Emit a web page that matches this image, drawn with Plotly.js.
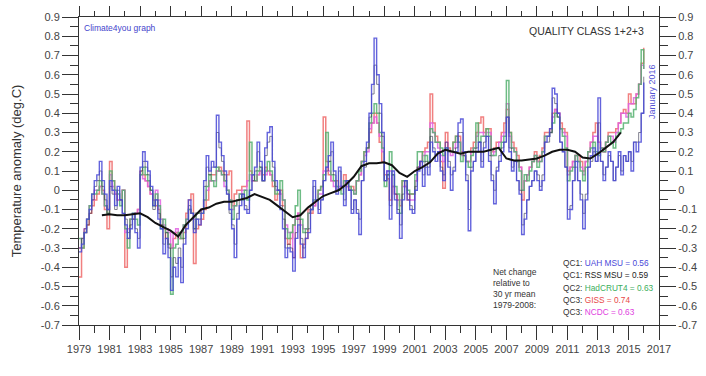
<!DOCTYPE html>
<html>
<head>
<meta charset="utf-8">
<script src="https://cdn.plot.ly/plotly-3.0.1.min.js"></script>
<style>
html,body{margin:0;padding:0;background:#fff;}
#chart{width:706px;height:376px;}
</style>
</head>
<body>
<div id="chart"></div>
<script>
// Bimonthly anomalies (deg.C, relative to 1979-2008), first value at 1979.0, step 1/6 yr, last at 2016.0
const startYear = 1979;
const stepYears = 1/6;

const uah = [
 -0.32,-0.28,-0.22,-0.15,-0.10,-0.02, // 1979
  0.05, 0.08, 0.15, 0.05,-0.02,-0.10, // 1980
  0.05, 0.00,-0.08, 0.02,-0.05,-0.12, // 1981
 -0.18,-0.25,-0.20,-0.12,-0.22,-0.30, // 1982
  0.12, 0.20, 0.15, 0.10, 0.02,-0.08, // 1983
 -0.05,-0.15,-0.20,-0.33,-0.25,-0.35, // 1984
 -0.52,-0.40,-0.45,-0.35,-0.48,-0.28, // 1985
 -0.20,-0.05,-0.12,-0.22,-0.15,-0.18, // 1986
 -0.12, 0.05, 0.18, 0.10, 0.15, 0.12, // 1987
  0.39, 0.25, 0.18, 0.10,-0.02,-0.10, // 1988
 -0.20,-0.35,-0.15,-0.08,-0.02,-0.10, // 1989
 -0.12, 0.00, 0.08, 0.12, 0.25, 0.15, // 1990
  0.05, 0.22, 0.30, 0.33, 0.15, 0.05, // 1991
  0.00,-0.10,-0.20,-0.35,-0.30,-0.32, // 1992
 -0.42,-0.25,-0.18,-0.28,-0.35,-0.25, // 1993
 -0.22,-0.10, 0.05,-0.05,-0.12,-0.05, // 1994
  0.05, 0.12, 0.18, 0.25, 0.10,-0.02, // 1995
  0.12, 0.02,-0.08, 0.05, 0.00,-0.12, // 1996
 -0.05,-0.12,-0.23, 0.05, 0.15, 0.25, // 1997
  0.40, 0.55, 0.79, 0.60, 0.45, 0.30, // 1998
  0.05, 0.10,-0.15, 0.10,-0.05,-0.12, // 1999
 -0.25,-0.05, 0.05,-0.05,-0.10,-0.12, // 2000
  0.00, 0.10, 0.15, 0.02, 0.12, 0.08, // 2001
  0.25, 0.20, 0.15, 0.20, 0.10, 0.05, // 2002
  0.22, 0.12, 0.00, 0.10, 0.20, 0.35, // 2003
  0.37, 0.20, 0.05,-0.21, 0.10, 0.15, // 2004
  0.20, 0.25, 0.12, 0.22, 0.28, 0.15, // 2005
  0.05,-0.07, 0.10, 0.15, 0.20, 0.25, // 2006
  0.38, 0.20, 0.10, 0.15, 0.05,-0.02, // 2007
 -0.23,-0.15,-0.05, 0.02, 0.05, 0.10, // 2008
  0.05, 0.00, 0.05, 0.25, 0.28, 0.32, // 2009
  0.53, 0.50, 0.40, 0.25, 0.20, 0.12, // 2010
 -0.15,-0.10, 0.05, 0.15, 0.05,-0.05, // 2011
 -0.20,-0.05, 0.12, 0.18, 0.22, 0.15, // 2012
  0.48, 0.15, 0.05, 0.12, 0.20, 0.15, // 2013
  0.05, 0.12, 0.20, 0.08, 0.18, 0.15, // 2014
  0.20, 0.10, 0.25, 0.20, 0.25, 0.40, // 2015
  0.56                                // 2016
];

const rss = [
 -0.30,-0.25,-0.20,-0.18,-0.12,-0.05,
  0.02, 0.05, 0.10, 0.02,-0.05,-0.12,
  0.02,-0.02,-0.10, 0.00,-0.05,-0.12,
 -0.15,-0.22,-0.18,-0.15,-0.20,-0.25,
  0.10, 0.15, 0.12, 0.08, 0.00,-0.10,
 -0.05,-0.12,-0.18,-0.28,-0.22,-0.30,
 -0.45,-0.35,-0.38,-0.30,-0.40,-0.25,
 -0.18,-0.08,-0.12,-0.20,-0.15,-0.15,
 -0.10, 0.02, 0.12, 0.08, 0.12, 0.12,
  0.30, 0.22, 0.15, 0.08,-0.02,-0.12,
 -0.18,-0.28,-0.12,-0.05,-0.02,-0.08,
 -0.10, 0.00, 0.05, 0.10, 0.20, 0.12,
  0.05, 0.18, 0.25, 0.28, 0.12, 0.02,
  0.00,-0.08,-0.15,-0.30,-0.28,-0.30,
 -0.35,-0.22,-0.15,-0.25,-0.30,-0.22,
 -0.20,-0.08, 0.02,-0.05,-0.10,-0.05,
  0.05, 0.10, 0.15, 0.20, 0.08, 0.00,
  0.10, 0.02,-0.05, 0.05, 0.00,-0.10,
 -0.05,-0.10,-0.15, 0.05, 0.12, 0.22,
  0.38, 0.50, 0.65, 0.55, 0.40, 0.28,
  0.05, 0.08,-0.08, 0.08,-0.02,-0.10,
 -0.18,-0.02, 0.05,-0.02,-0.08,-0.10,
  0.02, 0.12, 0.15, 0.08, 0.15, 0.12,
  0.28, 0.22, 0.18, 0.20, 0.12, 0.08,
  0.25, 0.15, 0.08, 0.12, 0.22, 0.30,
  0.30, 0.18, 0.08,-0.10, 0.12, 0.15,
  0.22, 0.25, 0.15, 0.25, 0.28, 0.18,
  0.08, 0.00, 0.12, 0.18, 0.22, 0.25,
  0.38, 0.22, 0.12, 0.15, 0.05, 0.00,
 -0.18,-0.12,-0.05, 0.02, 0.05, 0.10,
  0.08, 0.02, 0.08, 0.25, 0.25, 0.30,
  0.48, 0.45, 0.38, 0.25, 0.20, 0.12,
 -0.10,-0.08, 0.05, 0.12, 0.05,-0.02,
 -0.12,-0.02, 0.12, 0.15, 0.20, 0.15,
  0.35, 0.15, 0.08, 0.12, 0.18, 0.15,
  0.05, 0.12, 0.18, 0.10, 0.18, 0.15,
  0.20, 0.15, 0.25, 0.25, 0.30, 0.40,
  0.59
];

const hadcrut4 = [
 -0.25,-0.30,-0.22,-0.15,-0.08,-0.02,
 -0.02, 0.00, 0.05,-0.02,-0.08,-0.12,
  0.10, 0.05, 0.00,-0.02,-0.08, 0.00,
 -0.20,-0.30,-0.15,-0.12,-0.15,-0.18,
  0.08, 0.12, 0.08, 0.05, 0.00,-0.08,
 -0.02,-0.08,-0.20,-0.15,-0.22,-0.28,
 -0.54,-0.30,-0.28,-0.22,-0.25,-0.18,
 -0.15,-0.10,-0.12,-0.20,-0.12,-0.12,
 -0.12,-0.05, 0.02, 0.08, 0.05, 0.02,
  0.12, 0.10, 0.08, 0.05, 0.00,-0.05,
 -0.15,-0.08,-0.05,-0.02,-0.05, 0.00,
 -0.05, 0.25, 0.08, 0.05, 0.10, 0.12,
  0.05, 0.10, 0.15, 0.10, 0.05,-0.02,
  0.00, 0.05,-0.05,-0.20,-0.25,-0.22,
 -0.18,-0.08, 0.00,-0.15,-0.22,-0.20,
 -0.12,-0.10,-0.05,-0.05, 0.00, 0.02,
  0.08, 0.30, 0.15, 0.08, 0.05, 0.02,
  0.00,-0.02, 0.05, 0.05, 0.02, 0.00,
 -0.02, 0.05, 0.10, 0.15, 0.20, 0.22,
  0.35, 0.40, 0.45, 0.40, 0.30, 0.22,
  0.02, 0.08, 0.20, 0.08, 0.02,-0.02,
 -0.12, 0.05, 0.05, 0.00,-0.02,-0.02,
  0.08, 0.20, 0.20, 0.15, 0.18, 0.15,
  0.32, 0.30, 0.25, 0.25, 0.22, 0.18,
  0.22, 0.20, 0.20, 0.25, 0.28, 0.25,
  0.15, 0.18, 0.15, 0.12, 0.18, 0.22,
  0.35, 0.25, 0.28, 0.28, 0.32, 0.28,
  0.18, 0.18, 0.22, 0.22, 0.25, 0.28,
  0.57, 0.30, 0.22, 0.20, 0.15, 0.10,
  0.00, 0.08, 0.05, 0.10, 0.15, 0.18,
  0.12, 0.15, 0.20, 0.28, 0.28, 0.30,
  0.35, 0.40, 0.38, 0.32, 0.28, 0.22,
  0.05, 0.10, 0.12, 0.18, 0.15, 0.10,
  0.05, 0.12, 0.20, 0.22, 0.25, 0.20,
  0.18, 0.22, 0.20, 0.25, 0.28, 0.25,
  0.22, 0.28, 0.30, 0.32, 0.35, 0.35,
  0.40, 0.38, 0.42, 0.48, 0.55, 0.73,
  0.63
];

const giss = [
 -0.45,-0.30,-0.22,-0.18,-0.12,-0.08,
 -0.05,-0.02, 0.02, 0.00,-0.10,-0.20,
  0.15, 0.05,-0.02,-0.05,-0.05, 0.00,
 -0.40,-0.25,-0.15,-0.15,-0.12,-0.10,
  0.10, 0.08, 0.05, 0.02,-0.02,-0.05,
 -0.08,-0.10,-0.18,-0.20,-0.25,-0.28,
 -0.30,-0.25,-0.22,-0.25,-0.25,-0.22,
 -0.12,-0.05,-0.02,-0.38,-0.20,-0.18,
 -0.15,-0.10,-0.05, 0.05, 0.08, 0.08,
  0.10, 0.12, 0.10, 0.05, 0.08, 0.10,
 -0.08,-0.02, 0.00, 0.00, 0.02, 0.02,
  0.36, 0.10, 0.05, 0.05, 0.08, 0.10,
  0.08, 0.12, 0.10, 0.08, 0.02,-0.05,
 -0.02, 0.00,-0.08,-0.25,-0.28,-0.25,
 -0.18,-0.15,-0.12,-0.35,-0.28,-0.25,
 -0.10,-0.12,-0.08,-0.05, 0.00, 0.02,
  0.38, 0.15, 0.08, 0.05, 0.05, 0.05,
  0.00, 0.02, 0.08, 0.02, 0.00, 0.02,
  0.00, 0.05, 0.08, 0.15, 0.20, 0.22,
  0.30, 0.35, 0.40, 0.35, 0.25, 0.15,
  0.08, 0.06,-0.05, 0.02,-0.02,-0.05,
 -0.08, 0.05, 0.02,-0.05,-0.02,-0.02,
  0.05, 0.12, 0.15, 0.20, 0.22, 0.25,
  0.50, 0.35, 0.28, 0.25, 0.15, 0.01,
  0.30, 0.22, 0.20, 0.25, 0.28, 0.28,
  0.20, 0.18, 0.15, 0.15, 0.22, 0.25,
  0.30, 0.35, 0.38, 0.30, 0.32, 0.32,
  0.20, 0.22, 0.25, 0.25, 0.30, 0.35,
  0.42, 0.30, 0.25, 0.22, 0.18, 0.12,
 -0.05, 0.05, 0.08, 0.12, 0.15, 0.20,
  0.15, 0.18, 0.22, 0.30, 0.30, 0.32,
  0.40, 0.42, 0.40, 0.35, 0.32, 0.30,
  0.10, 0.12, 0.15, 0.18, 0.18, 0.15,
  0.10, 0.15, 0.20, 0.25, 0.30, 0.35,
  0.25, 0.22, 0.20, 0.25, 0.30, 0.30,
  0.30, 0.32, 0.35, 0.40, 0.42, 0.40,
  0.50, 0.45, 0.45, 0.50, 0.55, 0.66,
  0.74
];

const ncdc = [
 -0.30,-0.25,-0.20,-0.15,-0.08,-0.05,
  0.00, 0.00, 0.02,-0.02,-0.08,-0.10,
  0.08, 0.02,-0.02,-0.05,-0.05, 0.00,
 -0.22,-0.20,-0.15,-0.15,-0.12,-0.10,
  0.08, 0.06, 0.05, 0.02,-0.02,-0.05,
  0.00,-0.05,-0.15,-0.18,-0.20,-0.22,
 -0.30,-0.22,-0.20,-0.25,-0.22,-0.18,
 -0.15,-0.10,-0.12,-0.15,-0.12,-0.12,
 -0.10,-0.05, 0.00, 0.05, 0.05, 0.05,
  0.10, 0.10, 0.08, 0.02, 0.00,-0.05,
 -0.10,-0.08,-0.05,-0.02, 0.00, 0.00,
  0.05, 0.08, 0.05, 0.05, 0.08, 0.10,
  0.05, 0.08, 0.10, 0.08, 0.05, 0.00,
  0.00,-0.02,-0.05,-0.18,-0.22,-0.22,
 -0.35,-0.15,-0.12,-0.18,-0.20,-0.20,
 -0.12,-0.10,-0.08,-0.05,-0.02,-0.02,
  0.10, 0.12, 0.10, 0.05, 0.02, 0.00,
  0.02, 0.02, 0.05, 0.02, 0.00, 0.00,
 -0.02, 0.05, 0.08, 0.15, 0.18, 0.20,
  0.32, 0.35, 0.38, 0.35, 0.28, 0.20,
  0.05, 0.10, 0.10, 0.02,-0.02,-0.05,
 -0.05, 0.02, 0.02,-0.02,-0.05,-0.05,
  0.05, 0.12, 0.15, 0.18, 0.20, 0.20,
  0.35, 0.30, 0.25, 0.22, 0.18, 0.15,
  0.25, 0.20, 0.18, 0.22, 0.25, 0.25,
  0.18, 0.18, 0.15, 0.15, 0.20, 0.22,
  0.28, 0.30, 0.30, 0.28, 0.30, 0.30,
  0.18, 0.20, 0.22, 0.25, 0.28, 0.30,
  0.45, 0.28, 0.22, 0.20, 0.15, 0.12,
  0.00, 0.05, 0.08, 0.12, 0.15, 0.18,
  0.15, 0.15, 0.20, 0.28, 0.28, 0.30,
  0.38, 0.42, 0.40, 0.32, 0.30, 0.28,
  0.08, 0.12, 0.15, 0.18, 0.15, 0.12,
  0.08, 0.15, 0.20, 0.25, 0.28, 0.28,
  0.25, 0.22, 0.20, 0.25, 0.28, 0.28,
  0.25, 0.30, 0.35, 0.40, 0.40, 0.38,
  0.45, 0.45, 0.48, 0.50, 0.55, 0.65,
  0.63
];

// 37-month running mean, half-yearly from 1980.5 to 2014.5
const meanStart = 1980.5;
const meanStep = 0.5;
const runningMean = [
 -0.13,-0.125,-0.13,-0.13,-0.125,-0.12,-0.14,-0.17,-0.19,-0.21,
 -0.24,-0.18,-0.14,-0.10,-0.09,-0.07,-0.06,-0.06,-0.05,-0.04,
 -0.02,-0.035,-0.05,-0.08,-0.11,-0.14,-0.13,-0.09,-0.06,-0.03,
 -0.015,0.00,0.03,0.07,0.125,0.14,0.14,0.145,0.13,0.09,
  0.07,0.10,0.12,0.145,0.19,0.21,0.20,0.19,0.20,0.20,
  0.20,0.21,0.22,0.165,0.155,0.155,0.16,0.165,0.18,0.20,
  0.21,0.21,0.20,0.17,0.165,0.19,0.22,0.25,0.30
];

const xTickVals = [1979,1981,1983,1985,1987,1989,1991,1993,1995,1997,1999,2001,2003,2005,2007,2009,2011,2013,2015,2017];
const yTickVals = [-0.7,-0.6,-0.5,-0.4,-0.3,-0.2,-0.1,0,0.1,0.2,0.3,0.4,0.5,0.6,0.7,0.8,0.9];

const legendNames = ['QC1: ','QC1: ','QC2: ','QC3: ','QC3: '];
const legendLabels = ['UAH MSU = 0.56','RSS MSU = 0.59','HadCRUT4 = 0.63','GISS = 0.74','NCDC = 0.63'];

function times(n, s, st){ const t=[]; for(let i=0;i<n;i++) t.push(+(s+i*st).toFixed(4)); return t; }

const tq = times(uah.length, startYear, stepYears);
const tm = times(runningMean.length, meanStart, meanStep);

function stepTrace(y, color, w, op){
  return {x: tq, y: y, type:'scatter', mode:'lines', line:{color:color, width:w, shape:'hv'}, opacity:op, hoverinfo:'skip'};
}

const traces = [
  stepTrace(giss, '#ee6a6a', 1.5, 0.85),
  stepTrace(ncdc, '#e060e0', 1.5, 0.85),
  stepTrace(hadcrut4, '#55b070', 1.5, 0.85),
  stepTrace(rss, '#3a3a50', 0.9, 0.7),
  stepTrace(uah, '#4848d6', 1.4, 0.85),
  {x: tm, y: runningMean, xaxis:'x2', yaxis:'y2', type:'scatter', mode:'lines',
   line:{color:'#111', width:2}, hoverinfo:'skip'}
];

const font = 'Liberation Sans, Arial, sans-serif';
const tickFont = {family: font, size: 11, color:'#444'};

const ann = [];
function px(xp){ return (xp-79)/(659-79); }
function py(yp){ return (325-yp)/(325-17); }
ann.push({text:'Climate4you graph', x:px(82), y:py(28), xanchor:'left', yanchor:'middle', xref:'paper', yref:'paper', showarrow:false, font:{family:font, size:8.5, color:'#4444cc'}});
ann.push({text:'QUALITY CLASS 1+2+3', x:px(646), y:py(31), xanchor:'right', yanchor:'middle', xref:'paper', yref:'paper', showarrow:false, font:{family:font, size:10.5, color:'#333'}});
ann.push({text:'January 2016', x:px(652), y:py(92), xanchor:'center', yanchor:'middle', textangle:-90, xref:'paper', yref:'paper', showarrow:false, font:{family:font, size:9, color:'#5555d5'}});
ann.push({text:'Net change<br>relative to<br>30 yr mean<br>1979-2008:', x:px(491), y:py(288), xanchor:'left', yanchor:'middle', align:'left', xref:'paper', yref:'paper', showarrow:false, font:{family:font, size:8.5, color:'#333'}});
const legColors = ['#4848d8','#222','#3cae5c','#e84848','#e040e0'];
for(let i=0;i<legendLabels.length;i++){
  ann.push({text: '<span style="color:#333">'+legendNames[i]+'</span><span style="color:'+legColors[i]+'">'+legendLabels[i]+'</span>',
    x:px(561), y:py(263+i*12.3), xanchor:'left', yanchor:'middle', xref:'paper', yref:'paper', showarrow:false,
    font:{family:font, size:8.3, color:'#333'}});
}

const common = {showgrid:false, zeroline:false, showline:true, linecolor:'#333', linewidth:1, tickcolor:'#333', tickwidth:1, ticks:'outside'};

const layout = {
  width:706, height:376,
  margin:{l:79, r:47, t:17, b:51, pad:0},
  paper_bgcolor:'#fff', plot_bgcolor:'#fff',
  showlegend:false,
  xaxis: Object.assign({}, common, {range:[1979,2017], tickvals:xTickVals, ticktext:xTickVals.map(String), ticklen:14, tickfont:tickFont,
         minor:{dtick:1, tick0:1980, ticklen:7, ticks:'outside', tickcolor:'#333', showgrid:false}}),
  yaxis: Object.assign({}, common, {range:[-0.7,0.9], tickvals:yTickVals, ticktext:yTickVals.map(v=>String(+v.toFixed(1))), ticklen:16, tickfont:tickFont,
         minor:{dtick:0.1, tick0:-0.65, ticklen:8, ticks:'outside', tickcolor:'#333', showgrid:false},
         title:{text:'Temperature anomaly (deg.C)', font:{family:font, size:13, color:'#333'}, standoff:16}}),
  xaxis2: Object.assign({}, common, {range:[1979,2017], overlaying:'x', side:'top', anchor:'y2', tickvals:xTickVals, showticklabels:false, ticklen:10,
         minor:{dtick:1, tick0:1980, ticklen:5, ticks:'outside', tickcolor:'#333', showgrid:false}}),
  yaxis2: Object.assign({}, common, {range:[-0.7,0.9], overlaying:'y', side:'right', anchor:'x2', tickvals:yTickVals, ticktext:yTickVals.map(v=>String(+v.toFixed(1))), ticklen:16, tickfont:tickFont,
         minor:{dtick:0.1, tick0:-0.65, ticklen:8, ticks:'outside', tickcolor:'#333', showgrid:false}}),
  annotations: ann
};

Plotly.newPlot('chart', traces, layout, {staticPlot:true, displayModeBar:false});
</script>
</body>
</html>
